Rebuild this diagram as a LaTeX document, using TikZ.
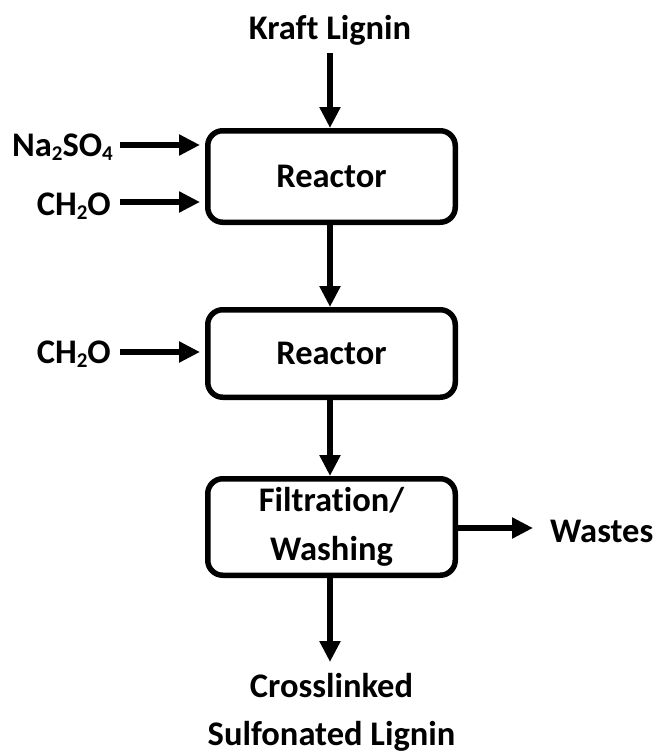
\documentclass[tikz,border=0pt]{standalone}
\usepackage{fontspec}
\setmainfont{Carlito}[Ligatures=NoCommon]
\usetikzlibrary{arrows.meta}
\newcommand{\subsc}[1]{\raisebox{-4pt}{\fontsize{21}{21}\selectfont #1}}
\begin{document}
\begin{tikzpicture}[x=1pt,y=-1pt,
  every node/.style={font=\fontsize{34.5}{49}\selectfont\bfseries, inner sep=0pt},
  procbox/.style={draw, line width=5.5pt, rounded corners=15pt, minimum width=247.5pt, align=center},
  arr/.style={line width=5.5pt, -{Triangle[length=21pt,width=20pt]}}]
\useasboundingbox (0,0) rectangle (658,755);
\node[anchor=base] (kraft) at (330,39) {Kraft Lignin};
\node[procbox, minimum height=91.5pt] (r1) at (331.5,176.5) {Reactor};
\node[procbox, minimum height=87.5pt] (r2) at (331.5,353.5) {Reactor};
\node[procbox, minimum height=96.5pt] (fw) at (331.5,527) {Filtration/\\Washing};
\node[anchor=base east] (na) at (113,156) {Na\subsc{2}SO\subsc{4}};
\node[anchor=base east] (ch1) at (111,215) {CH\subsc{2}O};
\node[anchor=base east] (ch2) at (111,363) {CH\subsc{2}O};
\node[anchor=base west] (waste) at (550,542) {Wastes};
\node[anchor=base] (prod1) at (331.5,697) {Crosslinked};
\node[anchor=base] (prod2) at (331.5,745) {Sulfonated Lignin};
\coordinate (kA) at (330,53);
\coordinate (naA) at (120,145);
\coordinate (c1A) at (120,202);
\coordinate (c2A) at (120,352);
\coordinate (pA) at (330,662);
\draw[arr] (kA) -- (kA |- r1.north);
\draw[arr] (r1.south -| kA) -- (r2.north -| kA);
\draw[arr] (r2.south -| kA) -- (fw.north -| kA);
\draw[arr] (fw.south -| pA) -- (pA);
\draw[arr, shorten >=5pt] (naA) -- (naA -| r1.west);
\draw[arr, shorten >=5pt] (c1A) -- (c1A -| r1.west);
\draw[arr, shorten >=5pt] (c2A) -- (c2A -| r2.west);
\coordinate (wA) at (533,528);
\draw[arr] (fw.east |- wA) -- (wA);
\end{tikzpicture}
\end{document}
